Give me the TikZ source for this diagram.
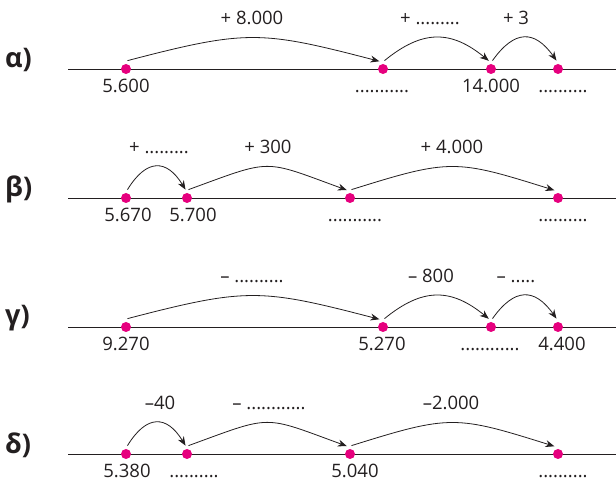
\documentclass[tikz,border=0pt]{standalone}
\usepackage{fontspec}
\setmainfont{Open Sans}
\usepackage{tikz}
\usetikzlibrary{arrows.meta}
\definecolor{dotpink}{RGB}{230,0,126}
\definecolor{inkgray}{RGB}{35,31,32}
\tikzset{
  pinkdot/.style={circle, fill=dotpink, minimum size=10pt, inner sep=0pt, outer sep=3.5pt},
  jump/.style={-{Stealth[length=9pt,width=7pt]}, line width=0.8pt, inkgray},
  numline/.style={line width=0.8pt, inkgray},
  lab/.style={anchor=base, inner sep=0pt, text=inkgray, font=\fontsize{18.5}{20}\selectfont},
  rowname/.style={anchor=west, inner sep=0pt, text=inkgray, font=\fontsize{27}{29}\selectfont\bfseries}
}

\begin{document}
\begin{tikzpicture}[x=1pt,y=1pt]
  \useasboundingbox (0,0) rectangle (616,482);

  % row alpha
  \begin{scope}[yshift=413pt]
    \coordinate (as) at (68,0); \coordinate (ae) at (616,0);
    \draw[numline] (as) -- (ae);
    \node[rowname] (ra) at (5,9) {α)};
    \node[pinkdot] (a1) at (126,0) {}; \node[pinkdot] (a2) at (383,0) {};
    \node[pinkdot] (a3) at (491,0) {}; \node[pinkdot] (a4) at (558,0) {};
    \draw[jump] (a1.80) .. controls +(119,31) and +(-119,31) .. (a2.115);
    \draw[jump] (a2.80) .. controls +(38,31) and +(-38,31) .. (a3.105);
    \draw[jump] (a3.80) .. controls +(22,31) and +(-22,31) .. (a4.100);
    \node[lab] (ta1) at (252,44) {+ 8.000};
    \node[lab] (ta2) at (430,44) {+ .........};
    \node[lab] (ta3) at (516,44) {+ 3};
    \node[lab] (ba1) at (126,-24) {5.600};
    \node[lab] (ba2) at (382,-24) {...........};
    \node[lab] (ba3) at (491,-24) {14.000};
    \node[lab] (ba4) at (563,-24) {..........};
  \end{scope}

  % row beta
  \begin{scope}[yshift=284pt]
    \coordinate (bs) at (68,0); \coordinate (be) at (616,0);
    \draw[numline] (bs) -- (be);
    \node[rowname] (rb) at (5,9) {β)};
    \node[pinkdot] (b1) at (126,0) {}; \node[pinkdot] (b2) at (187,0) {};
    \node[pinkdot] (b3) at (350,0) {}; \node[pinkdot] (b4) at (558,0) {};
    \draw[jump] (b1.80) .. controls +(19,31) and +(-19,31) .. (b2.100);
    \draw[jump] (b2.80) .. controls +(85,31) and +(-85,31) .. (b3.112);
    \draw[jump] (b3.80) .. controls +(99,31) and +(-99,31) .. (b4.115);
    \node[lab] (tb1) at (159,44) {+ .........};
    \node[lab] (tb2) at (268,44) {+ 300};
    \node[lab] (tb3) at (452,44) {+ 4.000};
    \node[lab] (bb1) at (128,-24) {5.670};
    \node[lab] (bb2) at (193,-24) {5.700};
    \node[lab] (bb3) at (355,-24) {...........};
    \node[lab] (bb4) at (563,-24) {..........};
  \end{scope}

  % row gamma
  \begin{scope}[yshift=155pt]
    \coordinate (cs) at (68,0); \coordinate (ce) at (616,0);
    \draw[numline] (cs) -- (ce);
    \node[rowname] (rc) at (5,9) {γ)};
    \node[pinkdot] (c1) at (126,0) {}; \node[pinkdot] (c2) at (383,0) {};
    \node[pinkdot] (c3) at (491,0) {}; \node[pinkdot] (c4) at (558,0) {};
    \draw[jump] (c1.80) .. controls +(119,31) and +(-119,31) .. (c2.115);
    \draw[jump] (c2.80) .. controls +(38,31) and +(-38,31) .. (c3.105);
    \draw[jump] (c3.80) .. controls +(22,31) and +(-22,31) .. (c4.100);
    \node[lab] (tc1) at (252,44) {– ..........};
    \node[lab] (tc2) at (431,44) {– 800};
    \node[lab] (tc3) at (516,44) {– .....};
    \node[lab] (bc1) at (126,-24) {9.270};
    \node[lab] (bc2) at (382,-24) {5.270};
    \node[lab] (bc3) at (490,-24) {............};
    \node[lab] (bc4) at (562,-24) {4.400};
  \end{scope}

  % row delta
  \begin{scope}[yshift=28pt]
    \coordinate (ds) at (68,0); \coordinate (de) at (616,0);
    \draw[numline] (ds) -- (de);
    \node[rowname] (rd) at (5,9) {δ)};
    \node[pinkdot] (d1) at (126,0) {}; \node[pinkdot] (d2) at (187,0) {};
    \node[pinkdot] (d3) at (350,0) {}; \node[pinkdot] (d4) at (558,0) {};
    \draw[jump] (d1.80) .. controls +(19,31) and +(-19,31) .. (d2.100);
    \draw[jump] (d2.80) .. controls +(85,31) and +(-85,31) .. (d3.112);
    \draw[jump] (d3.80) .. controls +(99,31) and +(-99,31) .. (d4.115);
    \node[lab] (td1) at (160,44) {–40};
    \node[lab] (td2) at (269,44) {– ............};
    \node[lab] (td3) at (451,44) {–2.000};
    \node[lab] (bd1) at (127,-24) {5.380};
    \node[lab] (bd2) at (194,-24) {..........};
    \node[lab] (bd3) at (355,-24) {5.040};
    \node[lab] (bd4) at (563,-24) {..........};
  \end{scope}
\end{tikzpicture}
\end{document}
